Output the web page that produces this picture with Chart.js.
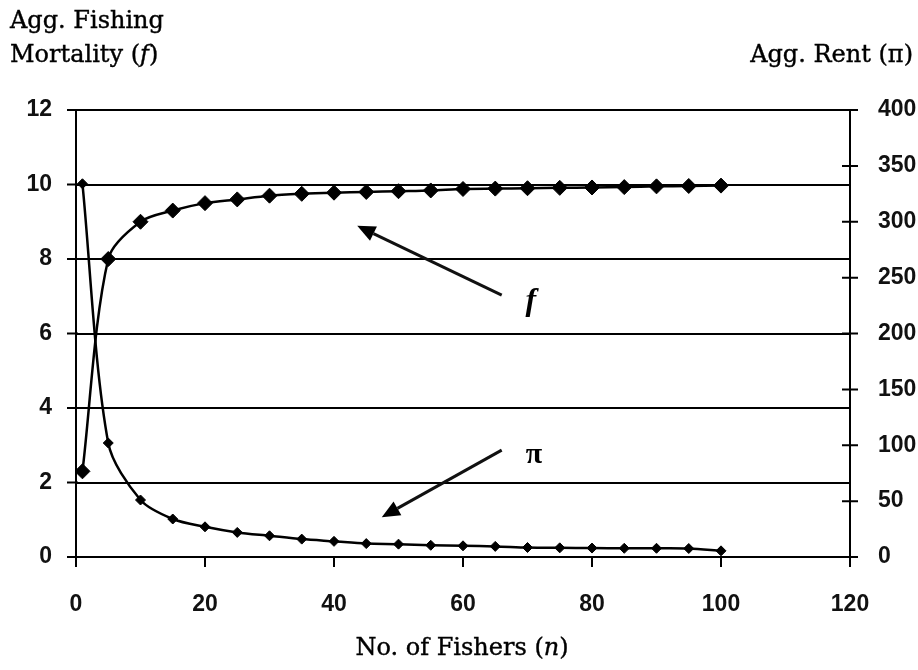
<!DOCTYPE html>
<html>
<head>
<meta charset="utf-8">
<script src="https://cdn.jsdelivr.net/npm/chart.js@4.4.1/dist/chart.umd.min.js"></script>
<style>
  body { margin: 0; background: #fff; }
  #wrap { position: relative; width: 918px; height: 670px; }
  .lbl { position: absolute; font-family: 'DejaVu Serif', serif; font-size: 24px; line-height: 34px; color: #000; white-space: nowrap; -webkit-text-stroke: 0.4px #000; }
</style>
</head>
<body>
<div id="wrap">
  <canvas id="chart" width="918" height="670"></canvas>
  <div class="lbl" style="left:10px; top:3px;">Agg. Fishing<br>Mortality (<i>f</i>)</div>
  <div class="lbl" style="right:5px; top:37px;">Agg. Rent (π)</div>
  <div class="lbl" style="left:0; width:924px; text-align:center; top:630px;">No. of Fishers (<i>n</i>)</div>
</div>
<script>
// number of fishers on the x axis
const fishers = [1, 5, 10, 15, 20, 25, 30, 35, 40, 45, 50, 55, 60, 65, 70, 75, 80, 85, 90, 95, 100];
// aggregate fishing mortality f (left axis)
const mortality = [2.3, 8.0, 9.0, 9.3, 9.5, 9.6, 9.7, 9.75, 9.78, 9.8, 9.82, 9.84, 9.88, 9.89, 9.9, 9.91, 9.92, 9.93, 9.95, 9.96, 9.97];
// aggregate rent pi (right axis)
const rent = [334, 102, 51, 34, 27, 22, 19, 16, 14, 12, 11.5, 10.5, 10, 9.5, 8.5, 8.2, 8, 7.8, 7.8, 7.6, 5.5];

// annotation arrows, in data units of the x / left y axes
const arrows = [
  { label: 'f', from: [66, 7.03], to: [43.6, 8.89], at: [70.5, 6.85], font: 'italic bold 32px "Liberation Serif"' },
  { label: 'π', from: [66, 2.87], to: [47.4, 1.07], at: [71, 2.74], font: 'bold 30px "Liberation Serif"' }
];

const tickFont = { family: 'Liberation Sans', size: 23, weight: 'bold' };

const extras = {
  id: 'extras',
  afterDraw(chart) {
    const { ctx, scales: { x, y, y1 } } = chart;
    ctx.save();
    // tick marks crossing the axes
    ctx.strokeStyle = '#000';
    ctx.lineWidth = 2;
    ctx.beginPath();
    y.ticks.forEach(t => {
      const py = y.getPixelForValue(t.value);
      ctx.moveTo(y.right - 9, py); ctx.lineTo(y.right + 2, py);
    });
    y1.ticks.forEach(t => {
      const py = y1.getPixelForValue(t.value);
      ctx.moveTo(y1.left - 8, py); ctx.lineTo(y1.left + 8, py);
    });
    x.ticks.forEach(t => {
      const px = x.getPixelForValue(t.value);
      ctx.moveTo(px, x.top); ctx.lineTo(px, x.top + 10);
    });
    ctx.stroke();

    // arrows and labels
    arrows.forEach(a => {
      const x0 = x.getPixelForValue(a.from[0]), y0 = y.getPixelForValue(a.from[1]);
      const x1 = x.getPixelForValue(a.to[0]), y1p = y.getPixelForValue(a.to[1]);
      const ang = Math.atan2(y1p - y0, x1 - x0);
      const len = 18, half = 8;
      const bx = x1 - Math.cos(ang) * len, by = y1p - Math.sin(ang) * len;
      ctx.strokeStyle = '#111';
      ctx.lineWidth = 3;
      ctx.beginPath();
      ctx.moveTo(x0, y0); ctx.lineTo(bx, by);
      ctx.stroke();
      ctx.fillStyle = '#000';
      ctx.beginPath();
      ctx.moveTo(x1, y1p);
      ctx.lineTo(bx + Math.sin(ang) * half, by - Math.cos(ang) * half);
      ctx.lineTo(bx - Math.sin(ang) * half, by + Math.cos(ang) * half);
      ctx.closePath();
      ctx.fill();
      ctx.font = a.font;
      ctx.textAlign = 'center';
      ctx.textBaseline = 'middle';
      ctx.fillText(a.label, x.getPixelForValue(a.at[0]), y.getPixelForValue(a.at[1]));
    });
    ctx.restore();
  }
};

new Chart(document.getElementById('chart'), {
  type: 'line',
  data: {
    datasets: [
      {
        label: 'f',
        data: fishers.map((n, i) => ({ x: n, y: mortality[i] })),
        yAxisID: 'y',
        borderColor: '#000',
        backgroundColor: '#000',
        borderWidth: 2.5,
        tension: 0.3,
        pointStyle: 'rectRot',
        pointRadius: 7.5,
        pointBorderWidth: 1
      },
      {
        label: 'π',
        data: fishers.map((n, i) => ({ x: n, y: rent[i] })),
        yAxisID: 'y1',
        borderColor: '#000',
        backgroundColor: '#000',
        borderWidth: 2.5,
        tension: 0.3,
        pointStyle: 'rectRot',
        pointRadius: 5,
        pointBorderWidth: 1
      }
    ]
  },
  options: {
    responsive: false,
    animation: false,
    layout: { padding: { top: 110, left: 0, right: 0, bottom: 0 } },
    plugins: { legend: { display: false }, tooltip: { enabled: false } },
    scales: {
      x: {
        type: 'linear',
        min: 0, max: 120,
        afterFit(s) { s.height = 113; },
        grid: { display: false },
        border: { display: true, color: '#000', width: 2 },
        ticks: { stepSize: 20, padding: 26, color: '#111', font: tickFont }
      },
      y: {
        position: 'left',
        min: 0, max: 12,
        afterFit(s) { s.width = 76; },
        grid: { color: '#000', lineWidth: 2, drawTicks: false },
        border: { display: true, color: '#000', width: 2 },
        ticks: { stepSize: 2, padding: 24, color: '#111', font: tickFont }
      },
      y1: {
        position: 'right',
        min: 0, max: 400,
        afterFit(s) { s.width = 68; },
        grid: { display: false },
        border: { display: true, color: '#000', width: 2 },
        ticks: { stepSize: 50, padding: 20, color: '#111', font: tickFont }
      }
    }
  },
  plugins: [extras]
});
</script>
</body>
</html>
